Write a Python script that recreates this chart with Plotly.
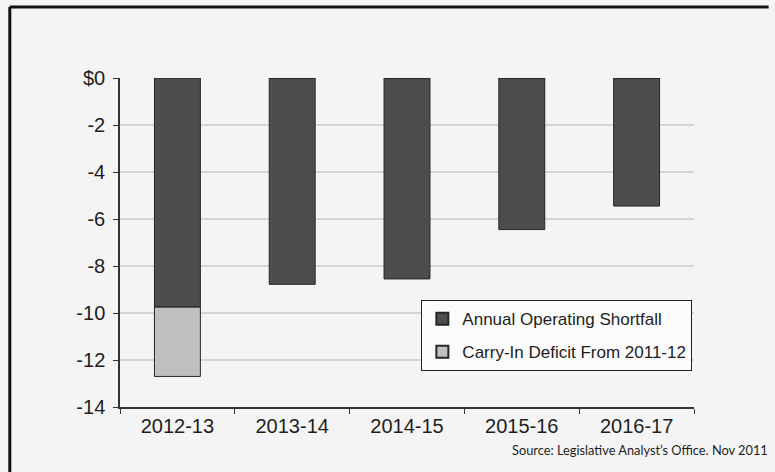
import plotly.graph_objects as go

# ─── Data ─────────────────────────────────────────────────────────────────────
years = ["2012-13", "2013-14", "2014-15", "2015-16", "2016-17"]
operating_shortfall = [-9.75, -8.78, -8.55, -6.45, -5.45]
carry_in_deficit = [-2.95, 0, 0, 0, 0]

tick_vals = [0, -2, -4, -6, -8, -10, -12, -14]
tick_text = ["$0", "-2", "-4", "-6", "-8", "-10", "-12", "-14"]

source_note = "Source: Legislative Analyst\u2019s Office. Nov 2011"

# ─── Style ────────────────────────────────────────────────────────────────────
DARK = "#4d4d4d"
LIGHT = "#c0c0c0"
EDGE = "#262626"
GRID = "#d4d4d4"
BG = "#f4f4f4"
FONT = "Liberation Sans, Arial, sans-serif"

fig = go.Figure()
fig.add_trace(go.Bar(
    x=years, y=operating_shortfall, name="Annual Operating Shortfall",
    marker=dict(color=DARK, line=dict(color=EDGE, width=1)),
    width=0.4, legendgroup="a",
))
fig.add_trace(go.Bar(
    x=years, y=carry_in_deficit, name="Carry-In Deficit From 2011-12",
    marker=dict(color=LIGHT, line=dict(color=EDGE, width=1)),
    width=0.4, legendgroup="b",
))

fig.update_layout(
    width=775, height=472,
    barmode="relative",
    margin=dict(l=120, r=81, t=78, b=65),
    plot_bgcolor=BG, paper_bgcolor=BG,
    font=dict(family=FONT, size=20, color="#1e1e1e"),
    showlegend=True,
    legend=dict(
        x=0.525, y=0.325, xanchor="left", yanchor="top",
        bgcolor="#fbfbfb", bordercolor="#222222", borderwidth=1,
        font=dict(size=17, color="#1e1e1e"),
        traceorder="grouped", itemsizing="constant",
        tracegroupgap=8,
    ),
)

fig.update_xaxes(
    showgrid=False, showline=True, linecolor="#333333", linewidth=1.5,
    ticks="outside", tickson="boundaries", ticklen=5, tickcolor="#333333",
    tickfont=dict(size=20),
)
fig.update_yaxes(
    range=[-14, 0], tickvals=tick_vals, ticktext=tick_text,
    showgrid=True, gridcolor=GRID, gridwidth=1.5, zeroline=False,
    showline=True, linecolor="#333333", linewidth=1.5,
    ticks="outside", ticklen=5, tickcolor="#333333",
    tickfont=dict(size=20), ticklabelstandoff=4,
)

# outer frame of the slide (left and top edges only are visible)
frame = dict(type="line", xref="paper", yref="paper",
             line=dict(color="#111111", width=3), layer="above")
fig.add_shape(x0=-0.192, x1=-0.192, y0=-0.13 - 0.1, y1=1.216, **frame)
fig.add_shape(x0=-0.192, x1=1.13, y0=1.216, y1=1.216, **frame)

fig.add_annotation(
    text=source_note, xref="paper", yref="paper",
    x=1.132, y=-0.131, xanchor="right", yanchor="middle", showarrow=False,
    font=dict(family="Lato, Noto Sans, sans-serif", size=12.8, color="#1e1e1e"),
)

fig.write_html("out.html", config={"displayModeBar": False},
               post_script="document.body.style.margin='0';"
                           "document.body.style.overflow='hidden';")
